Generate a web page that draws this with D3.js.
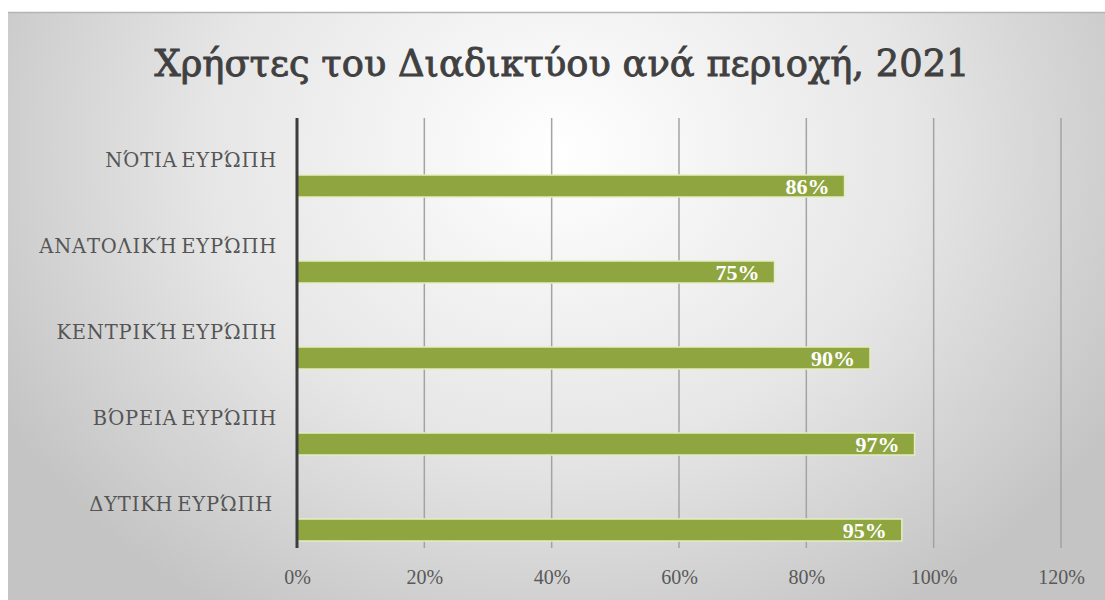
<!DOCTYPE html>
<html>
<head>
<meta charset="utf-8">
<script src="https://cdn.jsdelivr.net/npm/d3@7/dist/d3.min.js"></script>
<style>
  html, body { margin: 0; padding: 0; background: #ffffff; }
  svg { display: block; }
</style>
</head>
<body>
<svg id="chart" width="1105" height="600"></svg>
<script>
// Internet users by region, 2021 (share of population)
const titleText = "Χρήστες του Διαδικτύου ανά περιοχή, 2021";
const regions = [
  "ΝΌΤΙΑ ΕΥΡΏΠΗ",
  "ΑΝΑΤΟΛΙΚΉ ΕΥΡΏΠΗ",
  "ΚΕΝΤΡΙΚΉ ΕΥΡΏΠΗ",
  "ΒΌΡΕΙΑ ΕΥΡΏΠΗ",
  "ΔΥΤΙΚΗ ΕΥΡΏΠΗ "
];
const shares = [0.86, 0.75, 0.90, 0.97, 0.95];
const tickValues = [0, 0.2, 0.4, 0.6, 0.8, 1.0, 1.2];

const W = 1105, H = 600;
const svg = d3.select("#chart");
const serif = "'Liberation Serif', 'DejaVu Serif', serif";
const greekSerif = "'DejaVu Serif', serif";

// chart area background: soft radial gradient
const defs = svg.append("defs");
const grad = defs.append("radialGradient")
  .attr("id", "bg")
  .attr("gradientUnits", "userSpaceOnUse")
  .attr("cx", 560).attr("cy", 150).attr("r", 640)
  .attr("gradientTransform", "translate(560,150) scale(1,0.85) translate(-560,-150)");
grad.append("stop").attr("offset", "0%").attr("stop-color", "#ffffff");
grad.append("stop").attr("offset", "55%").attr("stop-color", "#e6e6e6");
grad.append("stop").attr("offset", "100%").attr("stop-color", "#c4c4c4");

svg.append("rect")
  .attr("x", 8).attr("y", 12)
  .attr("width", W - 8).attr("height", H - 12)
  .attr("fill", "url(#bg)");
svg.append("line")
  .attr("x1", 8).attr("x2", W).attr("y1", 12.5).attr("y2", 12.5)
  .attr("stroke", "#b4b4b4").attr("stroke-width", 1.5);

// title
svg.append("text")
  .attr("x", 562).attr("y", 76)
  .attr("text-anchor", "middle")
  .attr("font-family", greekSerif)
  .attr("font-size", 38)
  .attr("fill", "#404040")
  .attr("stroke", "#404040")
  .attr("stroke-width", 0.9)
  .attr("textLength", 815)
  .attr("lengthAdjust", "spacingAndGlyphs")
  .text(titleText);

const plot = { left: 297, right: 1061, top: 118, bottom: 548 };

const x = d3.scaleLinear().domain([0, 1.2]).range([plot.left, plot.right]);
const y = d3.scaleBand().domain(regions).range([plot.top, plot.bottom]);

// vertical gridlines
svg.append("g")
  .selectAll("line")
  .data(tickValues.slice(1))
  .join("line")
  .attr("x1", d => x(d)).attr("x2", d => x(d))
  .attr("y1", plot.top).attr("y2", plot.bottom)
  .attr("stroke", "#a3a3a3").attr("stroke-width", 1.5);

// x axis tick labels
const xAxis = d3.axisBottom(x)
  .tickValues(tickValues)
  .tickFormat(d3.format(".0%"))
  .tickSize(0)
  .tickPadding(0);
const gx = svg.append("g")
  .attr("transform", `translate(0,${plot.bottom + 22})`)
  .call(xAxis);
gx.select(".domain").remove();
gx.selectAll("text")
  .attr("font-family", serif)
  .attr("font-size", 20)
  .attr("fill", "#595959")
  .attr("dy", "0.71em");

// bars (sit in the lower half of each category band)
const barOffset = y.bandwidth() / 2 + 14;
const barH = 22;
const rows = regions.map((r, i) => ({ r, v: shares[i] }));
svg.append("g")
  .selectAll("rect")
  .data(rows)
  .join("rect")
  .attr("x", x(0))
  .attr("y", d => y(d.r) + barOffset)
  .attr("width", d => x(d.v) - x(0))
  .attr("height", barH)
  .attr("fill", "#8fa53f")
  .attr("stroke", "#e4edc2")
  .attr("stroke-width", 1.5);

// value labels inside bar ends
svg.append("g")
  .selectAll("text")
  .data(rows)
  .join("text")
  .attr("x", d => x(d.v) - 15)
  .attr("y", d => y(d.r) + barOffset + barH / 2)
  .attr("dy", "0.36em")
  .attr("text-anchor", "end")
  .attr("font-family", serif)
  .attr("font-weight", "bold")
  .attr("font-size", 22)
  .attr("fill", "#ffffff")
  .text(d => d3.format(".0%")(d.v));

// category labels
const yAxis = d3.axisLeft(y).tickSize(0).tickPadding(20);
const gy = svg.append("g")
  .attr("transform", `translate(${plot.left},0)`)
  .call(yAxis);
gy.select(".domain").remove();
gy.selectAll("text")
  .attr("font-family", greekSerif)
  .attr("font-size", 19.5)
  .attr("fill", "#555555")
  .attr("letter-spacing", 0.8)
  .attr("word-spacing", -3)
  .style("white-space", "pre");

// category axis line
svg.append("line")
  .attr("x1", x(0)).attr("x2", x(0))
  .attr("y1", plot.top).attr("y2", plot.bottom)
  .attr("stroke", "#3d3d3d").attr("stroke-width", 3);
</script>
</body>
</html>
